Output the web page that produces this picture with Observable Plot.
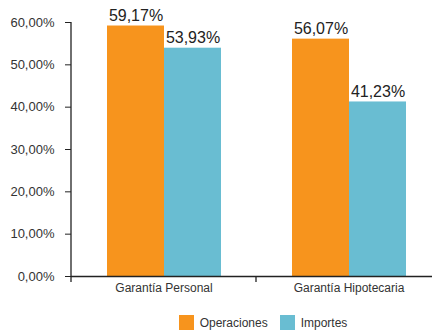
<!DOCTYPE html>
<html><head><meta charset="utf-8">
<script src="https://cdn.jsdelivr.net/npm/d3@7"></script>
<script src="https://cdn.jsdelivr.net/npm/@observablehq/plot@0.6"></script>
<style>
body{margin:0;background:#fff;font-family:"Liberation Sans",Arial,sans-serif;}
#legend{display:flex;justify-content:center;padding-left:106px;margin-top:1px;}
#legend > *{margin:0 !important;}
</style>
</head><body><div id="chart"></div><div id="legend"></div><script>
const categories = ["Garantía Personal", "Garantía Hipotecaria"];
const series = ["Operaciones", "Importes"];
const operaciones = [0.5917, 0.5607];
const importes = [0.5393, 0.4123];
const yTicks = [0, 0.1, 0.2, 0.3, 0.4, 0.5, 0.6];
const colors = ["#F7941D", "#69BDD2"];

const data = categories.flatMap((c, i) => [
  {cat: c, s: series[0], v: operaciones[i]},
  {cat: c, s: series[1], v: importes[i]}
]);
const fmt = v => (v * 100).toFixed(2).replace(".", ",") + "%";

const chart = Plot.plot({
  width: 432, height: 305,
  marginLeft: 71, marginRight: -9, marginTop: 22, marginBottom: 29,
  style: {fontFamily: "Liberation Sans, Arial, sans-serif", color: "#333", background: "#fff"},
  fx: {domain: categories, padding: 0, label: null},
  x: {domain: series, paddingInner: 0, paddingOuter: 0.62, axis: null},
  y: {domain: [0, 0.6], label: null},
  color: {domain: series, range: colors},
  marks: [
    Plot.axisY({ticks: yTicks, tickFormat: fmt, tickSize: 6, tickPadding: 11, fontSize: 13, stroke: "#222", label: null}),
    Plot.axisFx({anchor: "bottom", tickSize: 0, tickPadding: 7, fontSize: 12, label: null}),
    Plot.barY(data, {fx: "cat", x: "s", y: "v", fill: "s"}),
    Plot.text(data, {fx: "cat", x: "s", y: "v", text: d => fmt(d.v), lineAnchor: "bottom", dy: -5, fontSize: 16, fill: "#222"}),
    Plot.ruleY([0], {stroke: "#222", strokeWidth: 1.3})
  ]
});
document.getElementById("chart").appendChild(chart);

// y axis line and x boundary ticks derived from the scales
const fxS = chart.scale("fx"), yS = chart.scale("y");
const svg = d3.select(chart);
const y0 = yS.apply(0), yTop = yS.apply(yTicks[yTicks.length - 1]);
const bounds = categories.map(c => fxS.apply(c));
const g = svg.append("g").attr("stroke", "#222").attr("stroke-width", 1.3);
g.append("line").attr("x1", bounds[0]).attr("x2", bounds[0]).attr("y1", yTop).attr("y2", y0 + 6);
bounds.slice(1).forEach(b => g.append("line").attr("x1", b).attr("x2", b).attr("y1", y0).attr("y2", y0 + 6));

const legend = Plot.legend({
  color: {domain: series, range: colors},
  legend: "swatches", swatchSize: 15,
  style: {fontFamily: "Liberation Sans, Arial, sans-serif", fontSize: "12px", color: "#333"}
});
document.getElementById("legend").appendChild(legend);
</script></body></html>
